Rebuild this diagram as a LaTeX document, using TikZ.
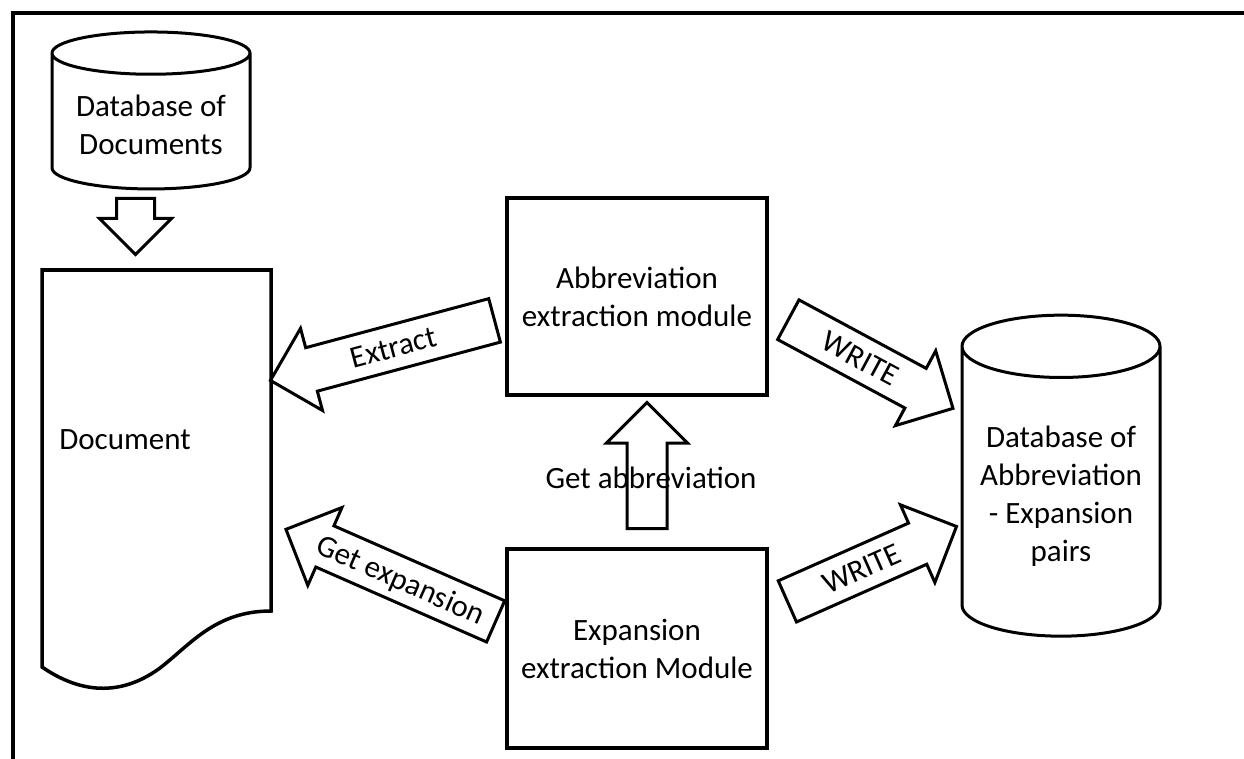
\documentclass[tikz,border=0pt]{standalone}
\usepackage{fontspec}
\setmainfont{Carlito}
\usetikzlibrary{positioning, shapes.geometric, shapes.arrows}

\begin{document}
\begin{tikzpicture}[x=1pt, y=-1pt,
      every node/.style={font=\fontsize{31}{38}\selectfont},
      box/.style={draw, line width=4pt, minimum width=260pt, minimum height=197pt,
                  align=center},
      db/.style={draw, cylinder, shape border rotate=90, line width=3pt,
                 minimum width=198pt, align=center},
      blk/.style={draw, single arrow, line width=3pt, single arrow head extend=20pt,
                  inner xsep=6pt, inner ysep=7pt, text height=24pt, text depth=4pt},
      hollow/.style={blk, text height=0pt, text depth=0pt, inner xsep=0pt}]
    \useasboundingbox (0,0) rectangle (1244,759);
    \draw[line width=4pt] (13,759) -- (13,13) -- (1244,13);

    \node[db, minimum height=157pt, aspect=0.27] (dbdocs) at (151,124.5) {Database of\\Documents};
    \node[hollow, rotate=-90, anchor=tail, minimum height=56pt, inner ysep=17.5pt,
          single arrow head extend=17pt] (feed) at (135.5,197) {};

    \draw[line width=3.5pt] (42,270) -- (271,270) -- (271,611)
        .. controls (215,611) and (190,645) .. (160,668)
        .. controls (130,690) and (90,700) .. (42,667) -- cycle;
    \node (doc) at (125,440) {Document};

    \node[box] (abbr) at (637,296.5) {Abbreviation\\extraction module};
    \node[box, minimum height=199pt, below=150pt of abbr] (expn) {Expansion\\extraction Module};
    \node[db, minimum height=321pt, aspect=0.37] (dbpairs) at (1061,496)
        {Database of\\Abbreviation\\- Expansion\\pairs};

    \node[blk, rotate=15, shape border rotate=180, anchor=tail, minimum height=232pt] (extract) at (496,320) {Extract};
    \node[blk, rotate=-23.7, shape border rotate=180, anchor=tail, minimum height=229pt] (getexp) at (497,622) {Get expansion};
    \node[blk, rotate=-28.3, anchor=tail, minimum height=187pt] (write1) at (787,319) {WRITE};
    \node[blk, rotate=23.9, anchor=tail, minimum height=185pt] (write2) at (786,602) {WRITE};
    \node[hollow, rotate=90, anchor=tail, minimum height=126pt, inner ysep=18.5pt,
          single arrow head extend=20.5pt] (getabbr) at (647,530) {};
    \node (getabbrlbl) at (651,478) {Get abbreviation};
\end{tikzpicture}
\end{document}
